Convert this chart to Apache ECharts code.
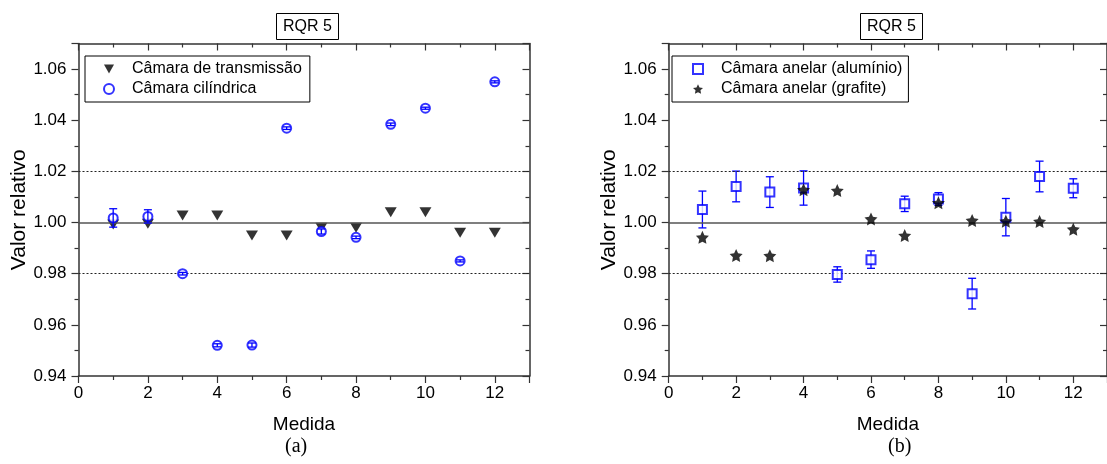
<!DOCTYPE html>
<html>
<head>
<meta charset="utf-8">
<script src="https://cdn.jsdelivr.net/npm/echarts@6/dist/echarts.min.js"></script>
<style>
html,body{margin:0;padding:0;background:#fff;}
#chart{width:1107px;height:464px;}
</style>
</head>
<body>
<div id="chart"></div>
<script>
// ---- data ----
const medida = [1, 2, 3, 4, 5, 6, 7, 8, 9, 10, 11, 12];
const xTickLabels = [0, 2, 4, 6, 8, 10, 12];
const yTickLabels = [0.94, 0.96, 0.98, 1.00, 1.02, 1.04, 1.06];
const transmissao = [0.9992, 0.9995, 1.0028, 1.0028, 0.9949, 0.9949, 0.9980, 0.9980, 1.0040, 1.0040, 0.9960, 0.9960];
const cilindrica = [1.0018, 1.0024, 0.9800, 0.9520, 0.9521, 1.0369, 0.9965, 0.9942, 1.0384, 1.0447, 0.9850, 1.0550];
const cilindricaErr = [0.0036, 0.0026, 0.0005, 0.0006, 0.0008, 0.0005, 0.0010, 0.0005, 0.0005, 0.0004, 0.0004, 0.0004];
const aluminio = [1.0051, 1.0141, 1.0119, 1.0135, 0.9797, 0.9855, 1.0073, 1.0092, 0.9722, 1.0021, 1.0180, 1.0134];
const aluminioErr = [0.0072, 0.0060, 0.0060, 0.0067, 0.0030, 0.0034, 0.0030, 0.0025, 0.0060, 0.0073, 0.0060, 0.0037];
const grafite = [0.9942, 0.9871, 0.9870, 1.0128, 1.0125, 1.0014, 0.9949, 1.0077, 1.0008, 1.0005, 1.0004, 0.9974];
const refLines = [1.00, 1.02, 0.98];

const FONT = 'Liberation Sans, Arial, sans-serif';
const BLUE = '#0000ff';
const AXC = '#333';
const DOWN_TRI = 'path://M0,0 L10,0 L5,9 Z';
const STAR = 'path://M0,-10 L2.9,-4 L9.51,-3.09 L4.7,1.5 L5.88,8.09 L0,5 L-5.88,8.09 L-4.7,1.5 L-9.51,-3.09 L-2.9,-4 Z';

const chart = echarts.init(document.getElementById('chart'), null, {renderer: 'canvas'});

function xAx(grid, pos) {
  const bottom = pos === 'bottom';
  return {
    type: 'value', gridIndex: grid, position: pos, min: 0, max: 13, interval: 2,
    name: bottom ? 'Medida' : '', nameLocation: 'middle', nameGap: 39,
    nameTextStyle: {fontSize: 19, fontFamily: FONT, color: '#000'},
    axisLine: {show: true, onZero: false, lineStyle: {color: AXC, width: 1.5}},
    axisTick: {show: true, inside: !bottom, length: 7, lineStyle: {color: AXC, width: 1.2}},
    minorTick: {show: true, splitNumber: 2, length: 4, lineStyle: {color: AXC, width: 1.2}},
    axisLabel: {show: bottom, showMaxLabel: false, margin: 9, fontSize: 17, fontFamily: FONT, color: '#000',
      formatter: v => (xTickLabels.indexOf(v) >= 0 ? String(v) : '')},
    splitLine: {show: false}, minorSplitLine: {show: false}
  };
}
function yAx(grid, pos) {
  const left = pos === 'left';
  return {
    type: 'value', gridIndex: grid, position: pos, min: 0.94, max: 1.07, interval: 0.02,
    name: left ? 'Valor relativo' : '', nameLocation: 'middle', nameGap: 46, nameRotate: 90,
    nameTextStyle: {fontSize: 21, fontFamily: FONT, color: '#000'},
    axisLine: {show: true, onZero: false, lineStyle: {color: AXC, width: 1.5}},
    axisTick: {show: true, inside: !left, length: 7, lineStyle: {color: AXC, width: 1.2}},
    minorTick: {show: true, splitNumber: 2, length: 4, lineStyle: {color: AXC, width: 1.2}},
    axisLabel: {show: left, showMaxLabel: false, margin: 12, fontSize: 17, fontFamily: FONT, color: '#000',
      formatter: v => (yTickLabels.some(t => Math.abs(t - v) < 1e-9) ? v.toFixed(2) : '')},
    splitLine: {show: false}, minorSplitLine: {show: false}
  };
}

function errSeries(name, xIdx, yIdx, vals, errs, color, z) {
  return {
    type: 'custom', name: name, xAxisIndex: xIdx, yAxisIndex: yIdx, silent: true, z: z,
    data: medida.map((m, i) => [m, vals[i] - errs[i], vals[i] + errs[i]]),
    encode: {x: 0, y: [1, 2]},
    renderItem: function (params, api) {
      const lo = api.coord([api.value(0), api.value(1)]);
      const hi = api.coord([api.value(0), api.value(2)]);
      const hw = 4;
      const st = {stroke: color, lineWidth: 1.3};
      return {type: 'group', children: [
        {type: 'line', shape: {x1: lo[0], y1: lo[1], x2: hi[0], y2: hi[1]}, style: st},
        {type: 'line', shape: {x1: lo[0] - hw, y1: lo[1], x2: lo[0] + hw, y2: lo[1]}, style: st},
        {type: 'line', shape: {x1: hi[0] - hw, y1: hi[1], x2: hi[0] + hw, y2: hi[1]}, style: st}
      ]};
    }
  };
}

function refSeries(xIdx, yIdx) {
  return {
    type: 'line', xAxisIndex: xIdx, yAxisIndex: yIdx, data: [], silent: true, z: 1,
    markLine: {
      silent: true, symbol: ['none', 'none'], label: {show: false}, animation: false,
      data: refLines.map(v => ({
        yAxis: v,
        lineStyle: v === 1.00 ? {color: '#555', width: 1.5, type: 'solid'} : {color: '#222', width: 1, type: [2, 2]}
      }))
    }
  };
}

const legendCommon = {
  orient: 'vertical', borderColor: '#000', borderWidth: 1,
  padding: [5, 8, 5, 18], itemGap: 4, itemWidth: 10, itemHeight: 10,
  textStyle: {fontSize: 16, fontFamily: FONT, color: '#000', padding: [0, 0, 0, 13]}
};
const titleCommon = {
  borderColor: '#000', borderWidth: 1, padding: [6, 7, 5, 7],
  textStyle: {fontSize: 16, fontWeight: 'normal', fontFamily: FONT, color: '#000'}
};

const option = {
  animation: false,
  backgroundColor: '#fff',
  title: [
    Object.assign({text: 'RQR 5', left: 276, top: 13}, titleCommon),
    Object.assign({text: 'RQR 5', left: 860, top: 13}, titleCommon)
  ],
  legend: [
    Object.assign({left: 85, top: 56, data: ['Câmara de transmissão', 'Câmara cilíndrica']}, legendCommon),
    Object.assign({left: 672, top: 56, data: ['Câmara anelar (alumínio)', 'Câmara anelar (grafite)']}, legendCommon, {padding: [5, 6, 5, 20]})
  ],
  grid: [
    {left: 78.5, top: 43.5, width: 451, height: 332.5},
    {left: 668.7, top: 43.5, width: 448.5, height: 332.5}
  ],
  xAxis: [xAx(0, 'bottom'), xAx(0, 'top'), xAx(1, 'bottom'), xAx(1, 'top')],
  yAxis: [yAx(0, 'left'), yAx(0, 'right'), yAx(1, 'left'), yAx(1, 'right')],
  graphic: [
    {type: 'text', left: 285, top: 437, style: {text: '(a)', fontSize: 20, fontFamily: 'Liberation Serif, Times New Roman, serif', fill: '#000'}},
    {type: 'text', left: 888, top: 437, style: {text: '(b)', fontSize: 20, fontFamily: 'Liberation Serif, Times New Roman, serif', fill: '#000'}}
  ],
  series: [
    refSeries(0, 0),
    refSeries(2, 2),
    {
      type: 'scatter', name: 'Câmara de transmissão', xAxisIndex: 0, yAxisIndex: 0, z: 4,
      symbol: DOWN_TRI, symbolSize: [12, 10],
      itemStyle: {color: '#000'},
      data: medida.map((m, i) => [m, transmissao[i]])
    },
    {
      type: 'scatter', name: 'Câmara cilíndrica', xAxisIndex: 0, yAxisIndex: 0, z: 5,
      symbol: 'emptyCircle', symbolSize: 9,
      itemStyle: {color: BLUE, borderColor: BLUE, borderWidth: 1.5},
      data: medida.map((m, i) => [m, cilindrica[i]])
    },
    errSeries('errCil', 0, 0, cilindrica, cilindricaErr, BLUE, 6),
    errSeries('errAlu', 2, 2, aluminio, aluminioErr, BLUE, 3),
    {
      type: 'scatter', name: 'Câmara anelar (alumínio)', xAxisIndex: 2, yAxisIndex: 2, z: 5,
      symbol: 'emptyRect', symbolSize: 9,
      itemStyle: {color: BLUE, borderColor: BLUE, borderWidth: 1.5},
      data: medida.map((m, i) => [m, aluminio[i]])
    },
    {
      type: 'scatter', name: 'Câmara anelar (grafite)', xAxisIndex: 2, yAxisIndex: 2, z: 6,
      symbol: STAR, symbolSize: 13,
      itemStyle: {color: '#000'},
      data: medida.map((m, i) => [m, grafite[i]])
    }
  ]
};
chart.setOption(option);
</script>
</body>
</html>
